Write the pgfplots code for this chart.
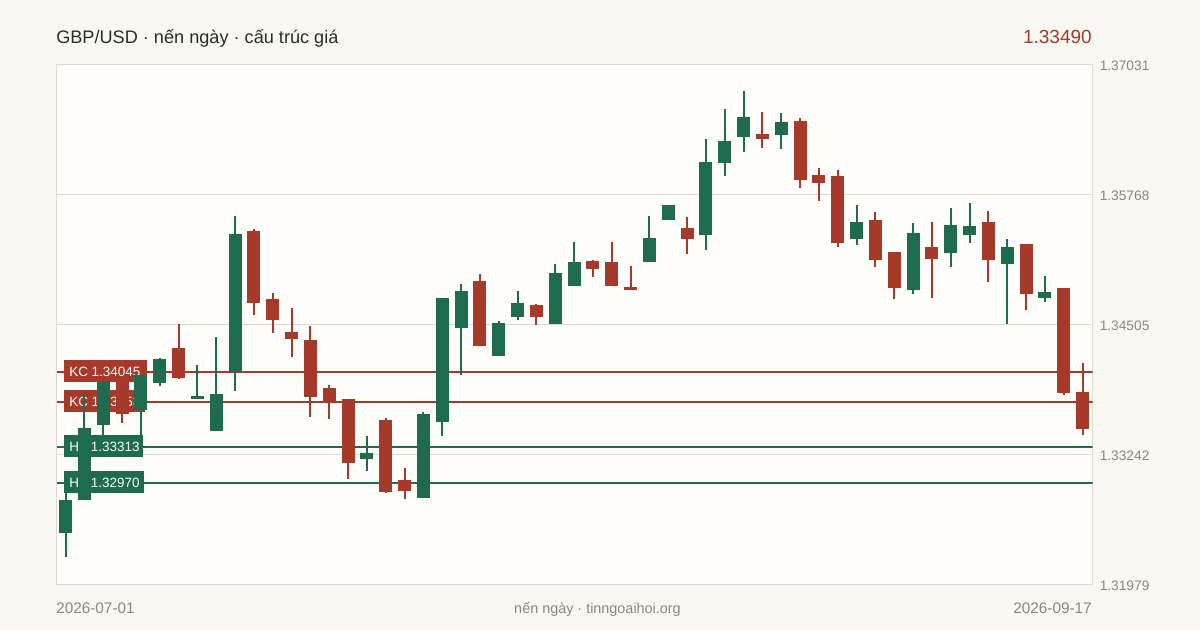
\documentclass[border=0pt]{standalone}
\usepackage{pgfplots}
\usepackage{pgfplotstable}
\usepackage{fontspec}
\setmainfont{Liberation Sans}
\pgfplotsset{compat=1.18}
\definecolor{pagebg}{HTML}{F9F8F3}
\definecolor{plotbg}{HTML}{FFFEFA}
\definecolor{gridc}{HTML}{DEDBCE}
\definecolor{upc}{HTML}{1E6B50}
\definecolor{dnc}{HTML}{A63A2A}
\definecolor{inkc}{HTML}{2B2B28}
\definecolor{mutec}{HTML}{8A877D}
\pgfplotstableread{
i high top bot low
0 1.32869 1.32801 1.32480 1.32246
1 1.33832 1.33501 1.32801 1.32801
2 1.33958 1.33958 1.33530 1.33433
4 1.34016 1.34016 1.33676 1.33433
5 1.34182 1.34172 1.33939 1.33909
7 1.34114 1.33812 1.33783 1.33783
8 1.34386 1.33832 1.33472 1.33472
9 1.35563 1.35388 1.34046 1.33861
16 1.33423 1.33258 1.33200 1.33083
19 1.33657 1.33637 1.32820 1.32820
20 1.34765 1.34765 1.33559 1.33423
21 1.34901 1.34833 1.34473 1.34016
23 1.34542 1.34522 1.34201 1.34201
24 1.34833 1.34717 1.34580 1.34551
26 1.35096 1.35008 1.34512 1.34512
27 1.35310 1.35115 1.34882 1.34882
31 1.35563 1.35349 1.35115 1.35115
32 1.35670 1.35670 1.35524 1.35524
34 1.36311 1.36088 1.35378 1.35232
35 1.36603 1.36292 1.36078 1.35952
36 1.36778 1.36525 1.36331 1.36185
38 1.36564 1.36477 1.36350 1.36214
42 1.35670 1.35504 1.35339 1.35281
45 1.35495 1.35397 1.34843 1.34804
47 1.35640 1.35475 1.35203 1.35067
48 1.35689 1.35465 1.35378 1.35300
50 1.35339 1.35261 1.35096 1.34512
52 1.34979 1.34824 1.34765 1.34726
}\upcandles
\pgfplotstableread{
i high top bot low
3 1.33977 1.33977 1.33637 1.33550
6 1.34512 1.34279 1.33987 1.33977
10 1.35436 1.35417 1.34717 1.34600
11 1.34814 1.34755 1.34551 1.34425
12 1.34668 1.34435 1.34366 1.34191
13 1.34493 1.34357 1.33802 1.33608
14 1.33919 1.33890 1.33754 1.33589
15 1.33783 1.33783 1.33161 1.33005
17 1.33598 1.33579 1.32879 1.32869
18 1.33112 1.32995 1.32888 1.32811
22 1.34999 1.34931 1.34298 1.34298
25 1.34707 1.34697 1.34580 1.34503
28 1.35135 1.35125 1.35047 1.34969
29 1.35310 1.35115 1.34882 1.34882
30 1.35076 1.34872 1.34843 1.34843
33 1.35553 1.35446 1.35339 1.35193
37 1.36574 1.36360 1.36311 1.36224
39 1.36516 1.36486 1.35913 1.35835
40 1.36029 1.35961 1.35883 1.35708
41 1.36010 1.35952 1.35300 1.35261
43 1.35601 1.35524 1.35135 1.35067
44 1.35213 1.35213 1.34862 1.34755
46 1.35504 1.35261 1.35144 1.34765
49 1.35611 1.35504 1.35135 1.34921
51 1.35290 1.35290 1.34804 1.34648
53 1.34862 1.34862 1.33841 1.33822
54 1.34133 1.33851 1.33490 1.33433
}\dncandles
\pgfplotsset{
  chartbox/.style={
    scale only axis, width=777pt, height=389.625pt,
    at={(42.375pt,-48.75pt)}, anchor=north west,
    xmin=-0.5, xmax=54.5, ymin=1.31979, ymax=1.37031,
  },
  wick/.style={draw=none, no markers, forget plot,
    error bars/.cd, y dir=both, y explicit, error mark=none,
    error bar style={line width=1.5pt, color=#1, solid}},
  body/.style={draw=none, no markers, forget plot,
    error bars/.cd, y dir=both, y explicit, error mark=none,
    error bar style={line width=9.75pt, color=#1, solid}},
}
\newcommand{\lvl}[5]{%
  \fill[#5] (64,#1) rectangle (#2,#3);
  \node[anchor=base west, inner sep=0pt, text=plotbg, font=\fontsize{10.1}{12}\selectfont] at (69,#3-5.7) {#4};
}
\begin{document}
\begin{tikzpicture}[x=0.75pt,y=-0.75pt]
\fill[pagebg] (0,0) rectangle (1200,630);
\begin{axis}[chartbox,
  axis background/.style={fill=plotbg},
  axis line style={color=gridc, line width=0.75pt},
  xtick=\empty,
  ytick={1.31979,1.33242,1.34505,1.35768,1.37031},
  ymajorgrids, grid style={color=gridc, line width=0.75pt},
  major tick length=0pt,
  yticklabel pos=right,
  y tick label style={anchor=west, inner sep=0pt, xshift=5.25pt, yshift=-0.75pt, text=mutec,
    font=\fontsize{10.3}{12}\selectfont},
  /pgf/number format/.cd, fixed, fixed zerofill, precision=5, assume math mode=true,
]
\addplot[dnc, line width=1.5pt, forget plot] coordinates {(-0.5,1.34045) (54.5,1.34045)};
\addplot[dnc, line width=1.5pt, forget plot] coordinates {(-0.5,1.33753) (54.5,1.33753)};
\addplot[upc, line width=1.5pt, forget plot] coordinates {(-0.5,1.33313) (54.5,1.33313)};
\addplot[upc, line width=1.5pt, forget plot] coordinates {(-0.5,1.32970) (54.5,1.32970)};
\end{axis}
\lvl{360}{147.3}{382}{KC 1.34045}{dnc}
\lvl{390}{145}{412}{KC 1.33753}{dnc}
\lvl{435}{143}{457}{HT 1.33313}{upc}
\lvl{471}{144}{493}{HT 1.32970}{upc}
\begin{axis}[chartbox, hide axis, clip=false, xmin=-0.478, xmax=54.522]
\addplot[wick=upc] table[x=i, y expr=(\thisrow{high}+\thisrow{low})/2, y error expr=(\thisrow{high}-\thisrow{low})/2] {\upcandles};
\addplot[wick=dnc] table[x=i, y expr=(\thisrow{high}+\thisrow{low})/2, y error expr=(\thisrow{high}-\thisrow{low})/2] {\dncandles};
\addplot[body=upc] table[x=i, y expr=(\thisrow{top}+\thisrow{bot})/2, y error expr=(\thisrow{top}-\thisrow{bot})/2] {\upcandles};
\addplot[body=dnc] table[x=i, y expr=(\thisrow{top}+\thisrow{bot})/2, y error expr=(\thisrow{top}-\thisrow{bot})/2] {\dncandles};
\end{axis}
\node[anchor=base west, inner sep=0pt, text=inkc, font=\fontsize{13.6}{16}\selectfont] at (56,43.5) {GBP/USD · nến ngày · cấu trúc giá};
\node[anchor=base east, inner sep=0pt, text=dnc, font=\fontsize{14.25}{16}\selectfont] at (1092,43.5) {1.33490};
\node[anchor=base west, inner sep=0pt, text=mutec, font=\fontsize{11.5}{13}\selectfont] at (56,613.5) {2026-07-01};
\node[anchor=base, inner sep=0pt, text=mutec, font=\fontsize{10.8}{13}\selectfont] at (597.5,613.5) {nến ngày · tinngoaihoi.org};
\node[anchor=base east, inner sep=0pt, text=mutec, font=\fontsize{11.5}{13}\selectfont] at (1092,613.5) {2026-09-17};
\end{tikzpicture}
\end{document}
